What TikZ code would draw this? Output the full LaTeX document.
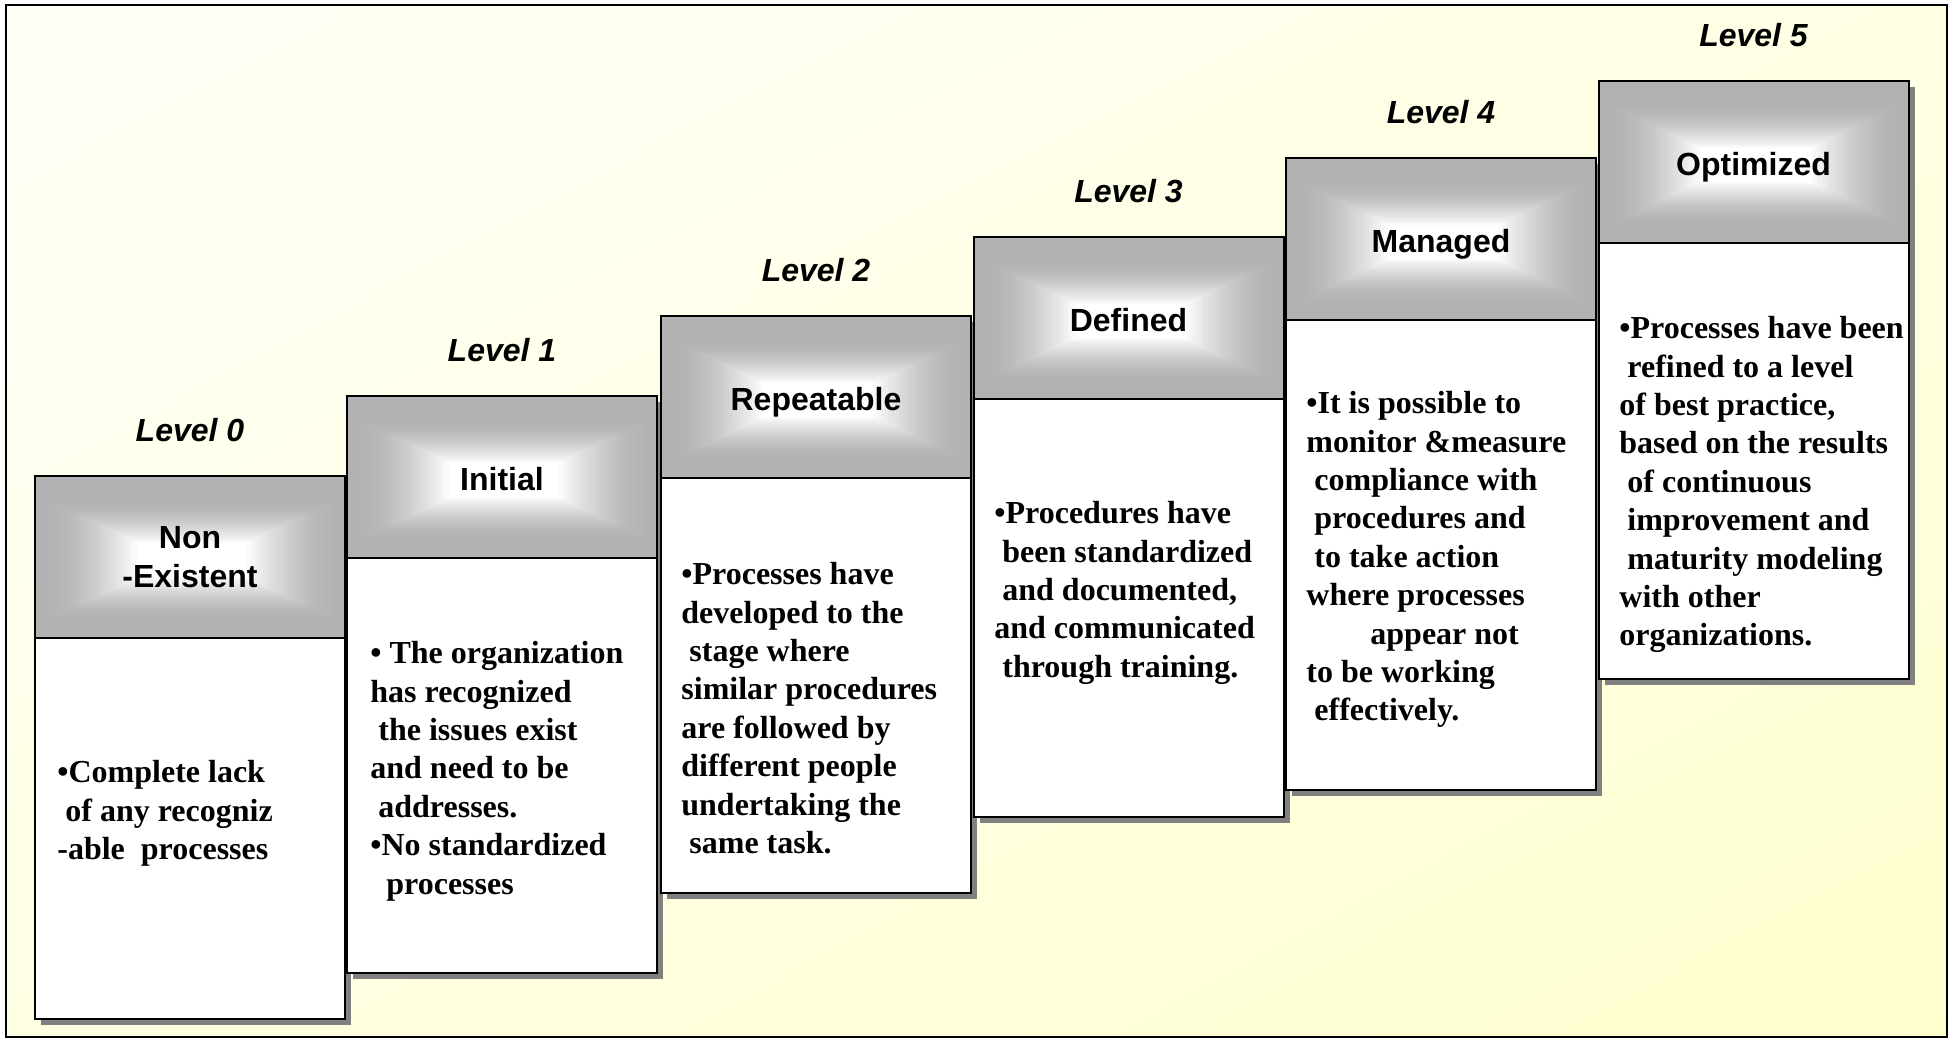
\documentclass[tikz,border=0pt]{standalone}
\usepackage{fontspec}
\setmainfont{Liberation Serif}
\setsansfont{Liberation Sans}
\usetikzlibrary{positioning,backgrounds,shadings}

\definecolor{hdgray}{RGB}{178,178,178}
\definecolor{shgray}{RGB}{128,128,128}
\definecolor{bgA}{RGB}{255,255,248}
\definecolor{bgM}{RGB}{255,255,228}
\definecolor{bgB}{RGB}{255,255,206}

\newcommand{\indsp}{\hspace*{4pt}}

\begin{document}
\begin{tikzpicture}[x=0.5pt, y=-0.5pt, node distance = 17pt]

\tikzstyle{level}=[inner sep=0pt, font=\fontsize{16}{19.2}\selectfont\sffamily\bfseries\itshape]
\tikzstyle{head}=[rectangle, draw, line width=1pt, outer sep=0pt, minimum width=155pt, minimum height=81pt, fill=hdgray, align=center, font=\fontsize{16}{19.5}\selectfont\sffamily\bfseries,
  path picture={
    \foreach \k [evaluate=\k as \pct using int(100-100*(\k/24)^1.6)] in {0,...,24}
      \fill [hdgray!\pct!white] ([shift={(-71.5pt+1.875pt*\k,-31.5pt+0.9pt*\k)}]path picture bounding box.center)
        rectangle ([shift={(73.5pt-1.875pt*\k,28.5pt-0.9pt*\k)}]path picture bounding box.center);
  }]
\tikzstyle{headone}=[head, text height=16.5pt, text depth=3.5pt]
\tikzstyle{body}=[rectangle, draw, line width=1pt, fill=white, outer sep=0pt, minimum width=155pt]
\tikzstyle{desc}=[anchor=north west, inner sep=0pt, align=left, font=\fontsize{16}{19.2}\selectfont\bfseries]

\useasboundingbox (0,0) rectangle (1953,1039);

% the six steps
\node (H0) [head] at (190,557)       {Non\\-Existent};
\node (B0) [body, minimum height=190.5pt, below=0pt of H0] {};
\node (L0) [level, above=of H0]      {Level 0};

\node (H1) [headone] at (502,477)    {Initial};
\node (B1) [body, minimum height=207.5pt, below=0pt of H1] {};
\node (L1) [level, above=of H1]      {Level 1};

\node (H2) [headone] at (816,397)    {Repeatable};
\node (B2) [body, minimum height=207.5pt, below=0pt of H2] {};
\node (L2) [level, above=of H2]      {Level 2};

\node (H3) [headone] at (1128.5,318) {Defined};
\node (B3) [body, minimum height=209pt, below=0pt of H3] {};
\node (L3) [level, above=of H3]      {Level 3};

\node (H4) [headone] at (1441,239)   {Managed};
\node (B4) [body, minimum height=235pt, below=0pt of H4] {};
\node (L4) [level, above=of H4]      {Level 4};

\node (H5) [headone] at (1753.5,162) {Optimized};
\node (B5) [body, minimum height=218pt, below=0pt of H5] {};
\node (L5) [level, above=of H5]      {Level 5};

% texts of the steps
\node (T0) [desc] at (57,760)   {•Complete lack\\\indsp of any recogniz\\-able~ processes};
\node (T1) [desc] at (370,641)  {• The organization\\has recognized\\\indsp the issues exist\\and need to be\\\indsp addresses.\\•No standardized\\\hspace*{8pt}processes};
\node (T2) [desc] at (681,562)  {•Processes have\\developed to the\\\indsp stage where\\similar procedures\\are followed by\\different people\\undertaking the\\\indsp same task.};
\node (T3) [desc] at (994,501)  {•Procedures have\\\indsp been standardized\\\indsp and documented,\\and communicated\\\indsp through training.};
\node (T4) [desc] at (1306,391) {•It is possible to\\monitor \&measure\\\indsp compliance with\\\indsp procedures and\\\indsp to take action\\where processes\\\hspace*{32pt}appear not\\to be working\\\indsp effectively.};
\node (T5) [desc] at (1619,316) {•Processes have been\\\indsp refined to a level\\of best practice,\\based on the results\\\indsp of continuous\\\indsp improvement and\\\indsp maturity modeling\\with other\\organizations.};

% background and shadows
\begin{scope}[on background layer]
\shade [upper left=bgA, upper right=bgM, lower left=bgM, lower right=bgB] (6,5) rectangle (1947,1037);
\fill [shgray] ([shift={(3pt,-3pt)}]H0.north west) rectangle ([shift={(3pt,-3pt)}]B0.south east);
\fill [shgray] ([shift={(3pt,-3pt)}]H1.north west) rectangle ([shift={(3pt,-3pt)}]B1.south east);
\fill [shgray] ([shift={(3pt,-3pt)}]H2.north west) rectangle ([shift={(3pt,-3pt)}]B2.south east);
\fill [shgray] ([shift={(3pt,-3pt)}]H3.north west) rectangle ([shift={(3pt,-3pt)}]B3.south east);
\fill [shgray] ([shift={(3pt,-3pt)}]H4.north west) rectangle ([shift={(3pt,-3pt)}]B4.south east);
\fill [shgray] ([shift={(3pt,-3pt)}]H5.north west) rectangle ([shift={(3pt,-3pt)}]B5.south east);
\end{scope}

\draw [line width=1pt] (6,5) rectangle (1947,1037);

\end{tikzpicture}
\end{document}
